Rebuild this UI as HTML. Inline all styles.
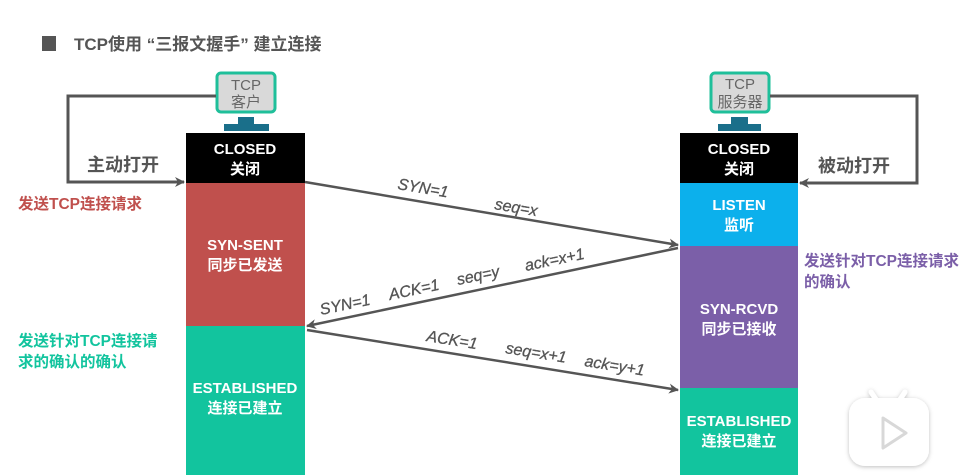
<!DOCTYPE html>
<html><head><meta charset="utf-8">
<style>
html,body{margin:0;padding:0;background:#fff;}
svg{display:block;}
text{font-family:"Liberation Sans","Noto Sans CJK SC",sans-serif;}
</style></head>
<body>
<svg width="974" height="475" viewBox="0 0 974 475" xmlns="http://www.w3.org/2000/svg">
<defs>
<marker id="ah" markerWidth="10" markerHeight="10" refX="9" refY="5" orient="auto" markerUnits="userSpaceOnUse">
<path d="M0,0 L10,5 L0,10 L3,5 Z" fill="#555"/>
</marker>
<filter id="sh" x="-20%" y="-20%" width="140%" height="140%"><feDropShadow dx="0" dy="1" stdDeviation="2" flood-color="#000" flood-opacity="0.25"/></filter>
</defs>
<rect width="974" height="475" fill="#fff"/>
<rect x="42" y="36" width="14" height="15" fill="#555"/>
<text x="74" y="50" font-size="17" font-weight="bold" fill="#555">TCP使用 “三报文握手” 建立连接</text>

<rect x="217" y="73" width="58" height="39" rx="4" fill="#d9d9d9" stroke="#1fbf9a" stroke-width="3"/>
<text x="246" y="90" font-size="15" fill="#666" text-anchor="middle">TCP</text>
<text x="246" y="107" font-size="15" fill="#666" text-anchor="middle">客户</text>
<rect x="238" y="117" width="16" height="7" fill="#1a6f8a"/>
<rect x="224" y="124" width="45" height="7" fill="#1a6f8a"/>

<rect x="711" y="73" width="58" height="39" rx="4" fill="#d9d9d9" stroke="#1fbf9a" stroke-width="3"/>
<text x="740" y="89" font-size="15" fill="#666" text-anchor="middle">TCP</text>
<text x="740" y="107" font-size="15" fill="#666" text-anchor="middle">服务器</text>
<rect x="731" y="117" width="17" height="7" fill="#1a6f8a"/>
<rect x="718" y="124" width="43" height="7" fill="#1a6f8a"/>

<rect x="186" y="133" width="119" height="50" fill="#000"/>
<rect x="186" y="183" width="119" height="143" fill="#c0504d"/>
<rect x="186" y="326" width="119" height="149" fill="#12c49e"/>
<g font-weight="bold" fill="#fff" text-anchor="middle">
<text x="245" y="154" font-size="15">CLOSED</text>
<text x="245" y="174" font-size="15">关闭</text>
<text x="245" y="250" font-size="15">SYN-SENT</text>
<text x="245" y="270" font-size="15">同步已发送</text>
<text x="245" y="393" font-size="15">ESTABLISHED</text>
<text x="245" y="413" font-size="15">连接已建立</text>
</g>

<rect x="680" y="133" width="118" height="50" fill="#000"/>
<rect x="680" y="183" width="118" height="63" fill="#0cb0ec"/>
<rect x="680" y="246" width="118" height="142" fill="#7b5fa8"/>
<rect x="680" y="388" width="118" height="87" fill="#12c49e"/>
<g font-weight="bold" fill="#fff" text-anchor="middle">
<text x="739" y="154" font-size="15">CLOSED</text>
<text x="739" y="174" font-size="15">关闭</text>
<text x="739" y="210" font-size="15">LISTEN</text>
<text x="739" y="230" font-size="15">监听</text>
<text x="739" y="314" font-size="15">SYN-RCVD</text>
<text x="739" y="334" font-size="15">同步已接收</text>
<text x="739" y="426" font-size="15">ESTABLISHED</text>
<text x="739" y="446" font-size="15">连接已建立</text>
</g>

<polyline points="216,96 68,96 68,182 184,182" fill="none" stroke="#555" stroke-width="3" marker-end="url(#ah)"/>
<text x="87" y="171" font-size="18" font-weight="bold" fill="#555">主动打开</text>
<polyline points="770,96 917,96 917,183 800,183" fill="none" stroke="#555" stroke-width="3" marker-end="url(#ah)"/>
<text x="818" y="172" font-size="18" font-weight="bold" fill="#555">被动打开</text>

<text x="18" y="209" font-size="15.5" font-weight="bold" fill="#c0504d">发送TCP连接请求</text>
<text x="18" y="346" font-size="15.5" font-weight="bold" fill="#12c49e">发送针对TCP连接请</text>
<text x="18" y="367" font-size="15.5" font-weight="bold" fill="#12c49e">求的确认的确认</text>
<text x="804" y="266" font-size="15.5" font-weight="bold" fill="#7b5fa8">发送针对TCP连接请求</text>
<text x="804" y="287" font-size="15.5" font-weight="bold" fill="#7b5fa8">的确认</text>

<line x1="305" y1="182" x2="678" y2="245" stroke="#555" stroke-width="2.5" marker-end="url(#ah)"/>
<line x1="678" y1="248" x2="307" y2="326" stroke="#555" stroke-width="2.5" marker-end="url(#ah)"/>
<line x1="307" y1="330" x2="678" y2="390" stroke="#555" stroke-width="2.5" marker-end="url(#ah)"/>

<g font-size="16" font-style="italic" fill="#555" stroke="#555" stroke-width="0.3">
<text transform="translate(397,189) rotate(9.6)">SYN=1</text>
<text transform="translate(494,209) rotate(9.6)">seq=x</text>
<text transform="translate(321,315) rotate(-11.8)">SYN=1</text>
<text transform="translate(390,300) rotate(-11.8)">ACK=1</text>
<text transform="translate(458,285) rotate(-11.8)">seq=y</text>
<text transform="translate(526,271) rotate(-11.8)">ack=x+1</text>
<text transform="translate(426,341) rotate(9.2)">ACK=1</text>
<text transform="translate(505,353) rotate(9.2)">seq=x+1</text>
<text transform="translate(584,366) rotate(9.2)">ack=y+1</text>
</g>

<g filter="url(#sh)">
<line x1="871" y1="392" x2="877" y2="401" stroke="#fff" stroke-width="5" stroke-linecap="round"/>
<line x1="905" y1="392" x2="899" y2="401" stroke="#fff" stroke-width="5" stroke-linecap="round"/>
<rect x="849" y="398" width="80" height="68" rx="16" fill="#fff"/>
</g>
<path d="M883,418 L906,433 L883,448 Z" fill="#fff" stroke="#d8d8d8" stroke-width="3" stroke-linejoin="round"/>
</svg>
</body></html>
